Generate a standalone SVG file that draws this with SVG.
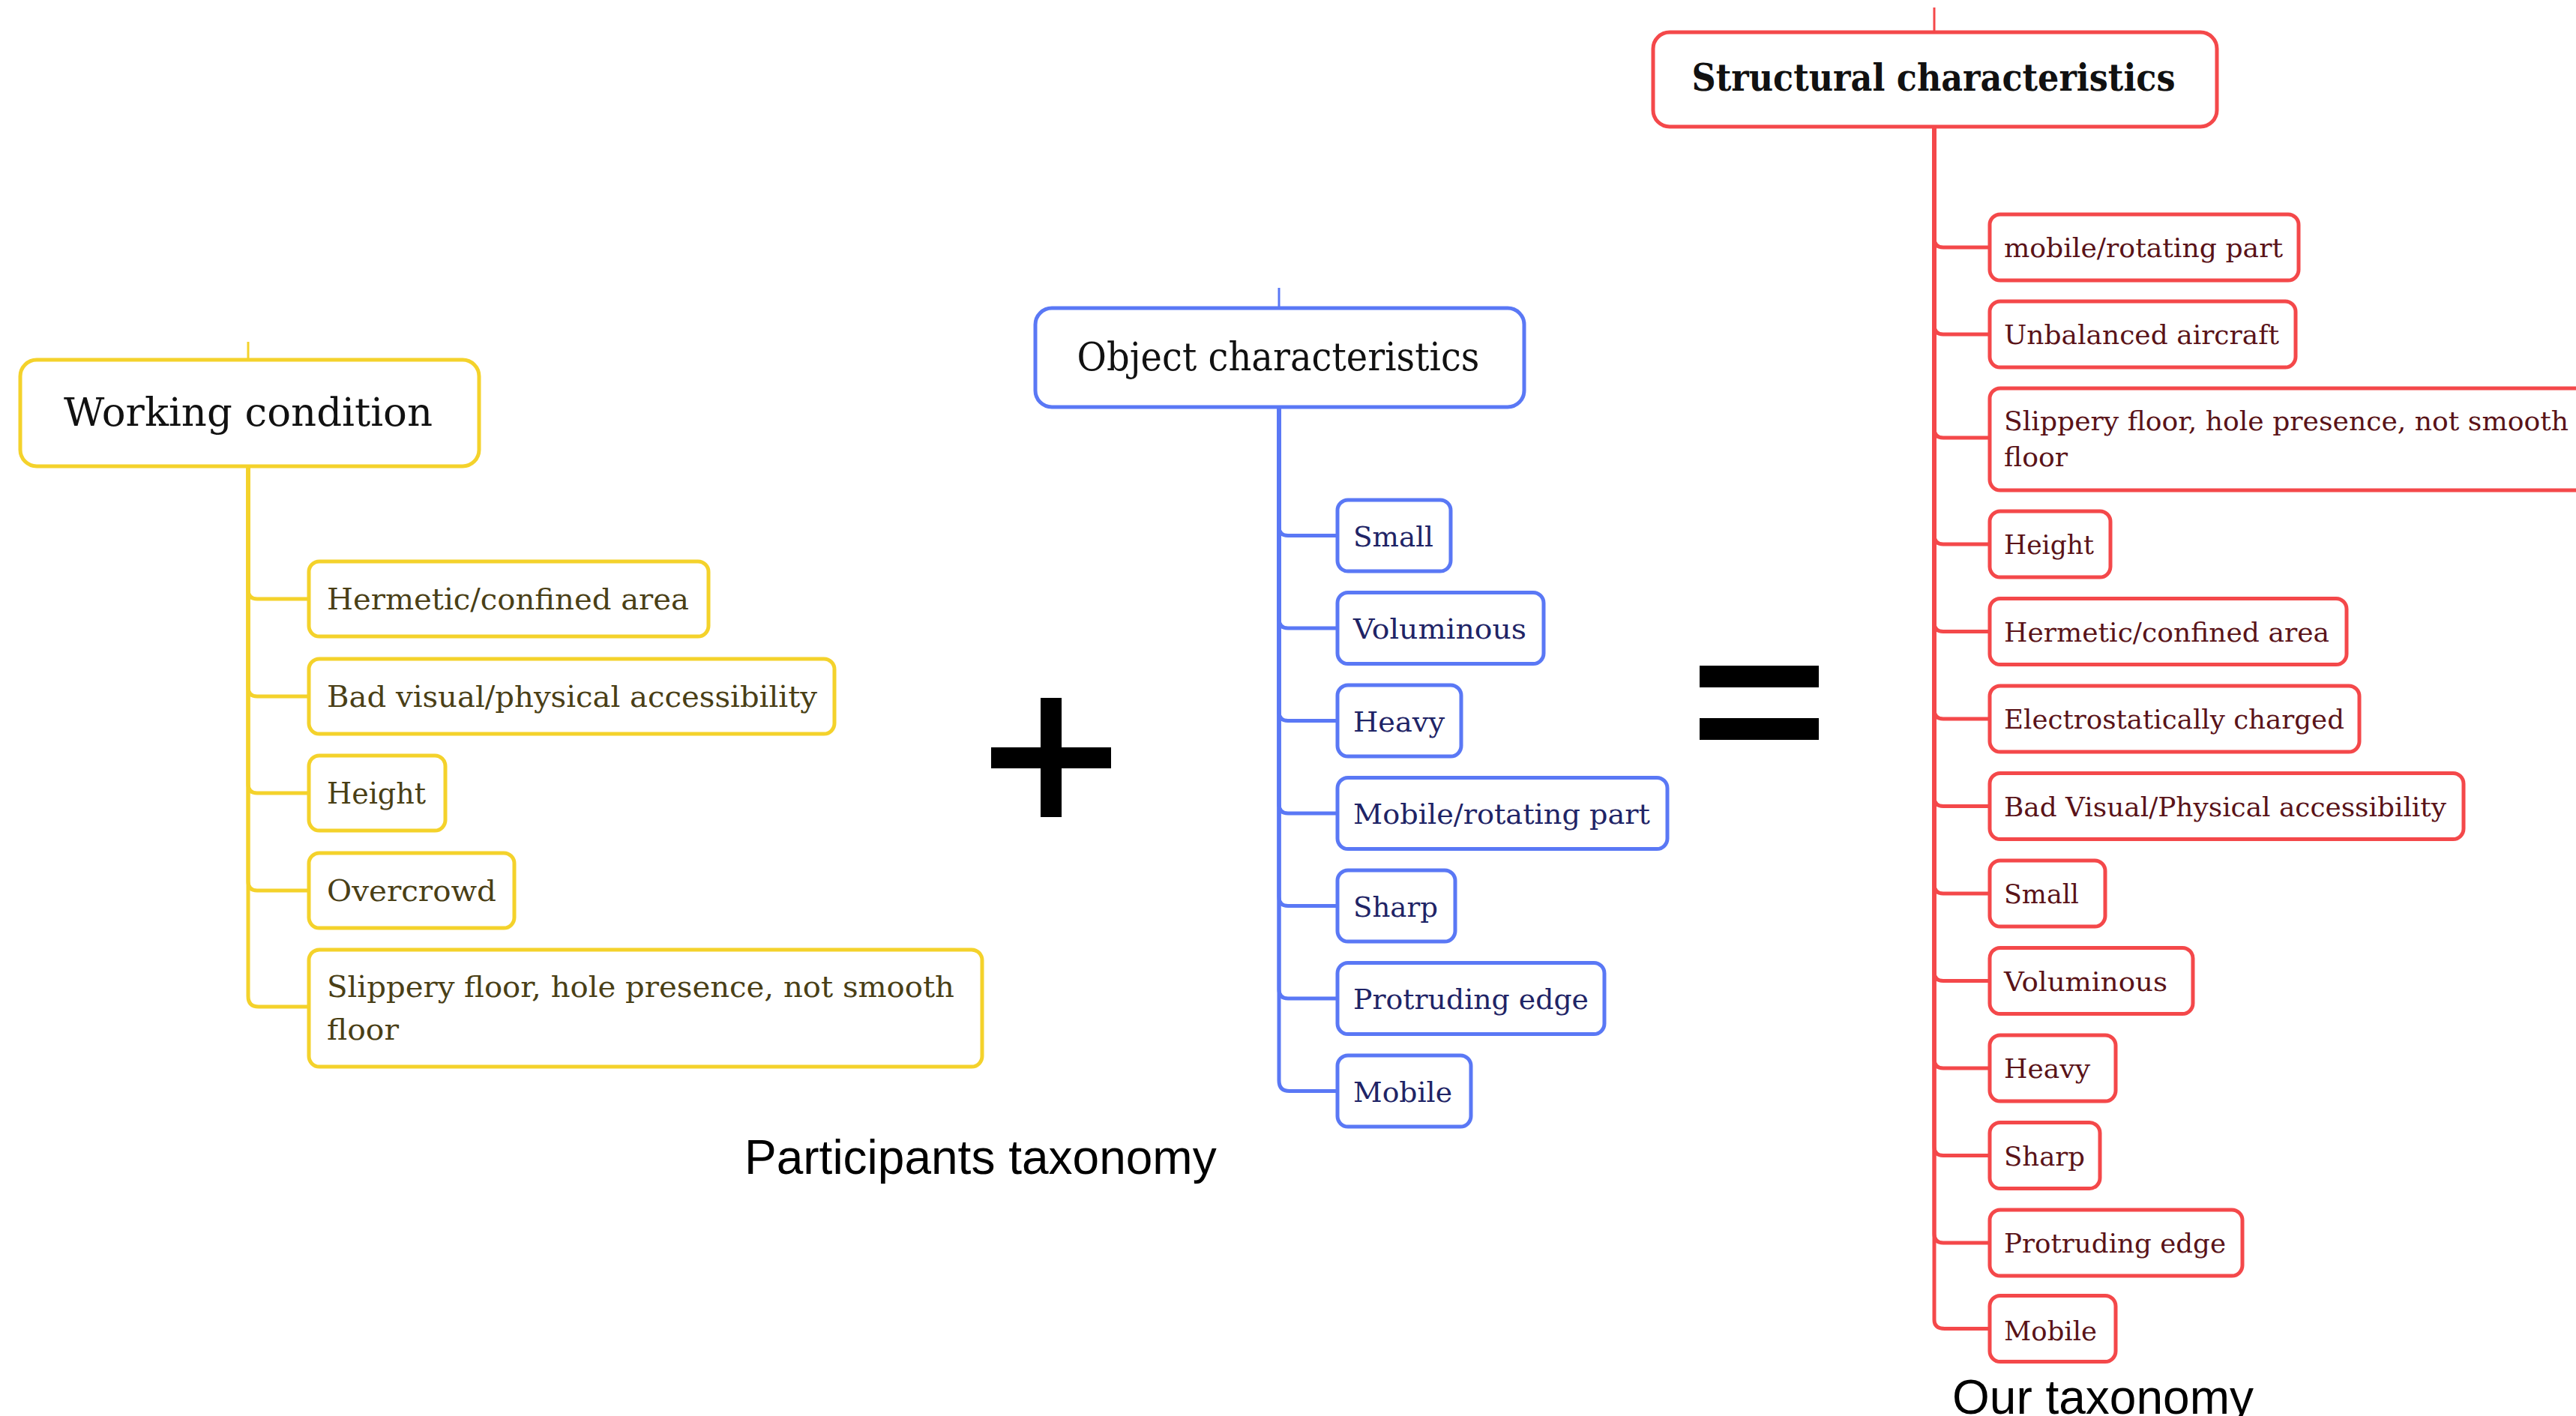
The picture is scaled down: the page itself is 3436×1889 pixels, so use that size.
<svg xmlns="http://www.w3.org/2000/svg" width="3436" height="1889" viewBox="0 0 3436 1889">
<style>
.bg{fill:#ffffff}
.y{fill:#ffffff;stroke:#F4D22B;stroke-width:5}
.b{fill:#ffffff;stroke:#5A78F5;stroke-width:5}
.r{fill:#ffffff;stroke:#F4484A;stroke-width:5}
.cy{fill:none;stroke:#F4D22B;stroke-width:5}
.cb{fill:none;stroke:#5A78F5;stroke-width:5}
.cr{fill:none;stroke:#F4484A;stroke-width:5}
.sy{stroke:#F4D22B;stroke-width:3}
.sb{stroke:#5A78F5;stroke-width:3}
.sr{stroke:#F4484A;stroke-width:3}
.t{font-family:"DejaVu Serif","Liberation Serif",serif}
.root{font-size:53px;fill:#111111}
.rootb{font-size:50px;font-weight:bold;fill:#111111}
.ty{font-size:40px;fill:#4a3f16}
.tb{font-size:38px;fill:#1f2466}
.tr{font-size:36px;fill:#5a1318}
.cap{font-family:"Liberation Sans",Arial,sans-serif;font-size:64px;fill:#000000}
</style>
<rect class="bg" x="0" y="0" width="3436" height="1889"/>

<g id="connectors">
  <line class="sy" x1="331" y1="456" x2="331" y2="480"/>
  <line class="sb" x1="1706" y1="384" x2="1706" y2="411"/>
  <line class="sr" x1="2580" y1="10" x2="2580" y2="43"/>
  <path class="cy" d="M331,622 V787 Q331,799 343,799 H412"/>
  <path class="cy" d="M331,622 V917 Q331,929 343,929 H412"/>
  <path class="cy" d="M331,622 V1046 Q331,1058 343,1058 H412"/>
  <path class="cy" d="M331,622 V1176 Q331,1188 343,1188 H412"/>
  <path class="cy" d="M331,622 V1329 Q331,1343 345,1343 H412"/>

  <path class="cb" d="M1706,543 V702.5 Q1706,714.5 1718,714.5 H1784"/>
  <path class="cb" d="M1706,543 V826 Q1706,838 1718,838 H1784"/>
  <path class="cb" d="M1706,543 V949.5 Q1706,961.5 1718,961.5 H1784"/>
  <path class="cb" d="M1706,543 V1073 Q1706,1085 1718,1085 H1784"/>
  <path class="cb" d="M1706,543 V1196.5 Q1706,1208.5 1718,1208.5 H1784"/>
  <path class="cb" d="M1706,543 V1320 Q1706,1332 1718,1332 H1784"/>
  <path class="cb" d="M1706,543 V1441.5 Q1706,1455.5 1720,1455.5 H1784"/>

  <path class="cr" d="M2580,169 V318 Q2580,330 2592,330 H2654"/>
  <path class="cr" d="M2580,169 V434 Q2580,446 2592,446 H2654"/>
  <path class="cr" d="M2580,169 V572 Q2580,584 2592,584 H2654"/>
  <path class="cr" d="M2580,169 V714 Q2580,726 2592,726 H2654"/>
  <path class="cr" d="M2580,169 V830.5 Q2580,842.5 2592,842.5 H2654"/>
  <path class="cr" d="M2580,169 V947 Q2580,959 2592,959 H2654"/>
  <path class="cr" d="M2580,169 V1063.5 Q2580,1075.5 2592,1075.5 H2654"/>
  <path class="cr" d="M2580,169 V1180 Q2580,1192 2592,1192 H2654"/>
  <path class="cr" d="M2580,169 V1296.5 Q2580,1308.5 2592,1308.5 H2654"/>
  <path class="cr" d="M2580,169 V1413 Q2580,1425 2592,1425 H2654"/>
  <path class="cr" d="M2580,169 V1529.5 Q2580,1541.5 2592,1541.5 H2654"/>
  <path class="cr" d="M2580,169 V1646 Q2580,1658 2592,1658 H2654"/>
  <path class="cr" d="M2580,169 V1760.5 Q2580,1772.5 2594,1772.5 H2654"/>
</g>

<!-- Working condition -->
<g id="working-condition">
  <rect class="y" x="27" y="480" width="612" height="142" rx="22"/>
  <text class="t root" x="331" y="568" text-anchor="middle" textLength="492" lengthAdjust="spacingAndGlyphs">Working condition</text>
</g>
<g id="wc-hermetic">
  <rect class="y" x="412" y="749" width="533" height="100" rx="14"/>
  <text class="t ty" x="436" y="813" textLength="483" lengthAdjust="spacingAndGlyphs">Hermetic/confined area</text>
</g>
<g id="wc-bad-visual">
  <rect class="y" x="412" y="879" width="701" height="100" rx="14"/>
  <text class="t ty" x="436" y="943" textLength="654" lengthAdjust="spacingAndGlyphs">Bad visual/physical accessibility</text>
</g>
<g id="wc-height">
  <rect class="y" x="412" y="1008" width="182" height="100" rx="14"/>
  <text class="t ty" x="436" y="1072" textLength="132" lengthAdjust="spacingAndGlyphs">Height</text>
</g>
<g id="wc-overcrowd">
  <rect class="y" x="412" y="1138" width="274" height="100" rx="14"/>
  <text class="t ty" x="436" y="1202" textLength="226" lengthAdjust="spacingAndGlyphs">Overcrowd</text>
</g>
<g id="wc-slippery">
  <rect class="y" x="412" y="1267" width="898" height="156" rx="14"/>
  <text class="t ty" x="436" y="1330" textLength="837" lengthAdjust="spacingAndGlyphs">Slippery floor, hole presence, not smooth</text>
  <text class="t ty" x="436" y="1387" textLength="96" lengthAdjust="spacingAndGlyphs">floor</text>
</g>

<!-- Plus -->
<g id="plus">
  <rect x="1388" y="931" width="28" height="159" fill="#000000"/>
  <rect x="1322" y="997" width="160" height="28" fill="#000000"/>
</g>

<!-- Object characteristics -->
<g id="object-characteristics">
  <rect class="b" x="1381" y="411" width="652" height="132" rx="22"/>
  <text class="t root" x="1705" y="494" text-anchor="middle" textLength="537" lengthAdjust="spacingAndGlyphs">Object characteristics</text>
</g>
<g id="oc-small">
  <rect class="b" x="1784" y="667" width="151" height="95" rx="14"/>
  <text class="t tb" x="1805" y="728.5" textLength="107" lengthAdjust="spacingAndGlyphs">Small</text>
</g>
<g id="oc-voluminous">
  <rect class="b" x="1784" y="790.5" width="275" height="95" rx="14"/>
  <text class="t tb" x="1805" y="852" textLength="231" lengthAdjust="spacingAndGlyphs">Voluminous</text>
</g>
<g id="oc-heavy">
  <rect class="b" x="1784" y="914" width="165" height="95" rx="14"/>
  <text class="t tb" x="1805" y="975.5" textLength="122" lengthAdjust="spacingAndGlyphs">Heavy</text>
</g>
<g id="oc-mobile-rotating">
  <rect class="b" x="1784" y="1037.5" width="440" height="95" rx="14"/>
  <text class="t tb" x="1805" y="1099" textLength="396" lengthAdjust="spacingAndGlyphs">Mobile/rotating part</text>
</g>
<g id="oc-sharp">
  <rect class="b" x="1784" y="1161" width="157" height="95" rx="14"/>
  <text class="t tb" x="1805" y="1222.5" textLength="113" lengthAdjust="spacingAndGlyphs">Sharp</text>
</g>
<g id="oc-protruding">
  <rect class="b" x="1784" y="1284.5" width="356" height="95" rx="14"/>
  <text class="t tb" x="1805" y="1346" textLength="314" lengthAdjust="spacingAndGlyphs">Protruding edge</text>
</g>
<g id="oc-mobile">
  <rect class="b" x="1784" y="1408" width="178" height="95" rx="14"/>
  <text class="t tb" x="1805" y="1469.5" textLength="132" lengthAdjust="spacingAndGlyphs">Mobile</text>
</g>

<g id="participants-label">
  <text class="cap" x="993" y="1566">Participants taxonomy</text>
</g>

<!-- Equals -->
<g id="equals">
  <rect x="2267" y="888" width="159" height="29" fill="#000000"/>
  <rect x="2267" y="958" width="159" height="29" fill="#000000"/>
</g>

<!-- Structural characteristics -->
<g id="structural-characteristics">
  <rect class="r" x="2205" y="43" width="752" height="126" rx="22"/>
  <text class="t rootb" x="2579" y="121" text-anchor="middle" textLength="645" lengthAdjust="spacingAndGlyphs">Structural characteristics</text>
</g>
<g id="sc-mobile-rotating">
  <rect class="r" x="2654" y="286" width="412" height="88" rx="14"/>
  <text class="t tr" x="2673" y="343" textLength="372" lengthAdjust="spacingAndGlyphs">mobile/rotating part</text>
</g>
<g id="sc-unbalanced">
  <rect class="r" x="2654" y="402" width="408" height="88" rx="14"/>
  <text class="t tr" x="2673" y="459" textLength="367" lengthAdjust="spacingAndGlyphs">Unbalanced aircraft</text>
</g>
<g id="sc-slippery">
  <rect class="r" x="2654" y="518" width="820" height="136" rx="14"/>
  <text class="t tr" x="2673" y="574" textLength="753" lengthAdjust="spacingAndGlyphs">Slippery floor, hole presence, not smooth</text>
  <text class="t tr" x="2673" y="622" textLength="85" lengthAdjust="spacingAndGlyphs">floor</text>
</g>
<g id="sc-height">
  <rect class="r" x="2654" y="682" width="161" height="88" rx="14"/>
  <text class="t tr" x="2673" y="739" textLength="120" lengthAdjust="spacingAndGlyphs">Height</text>
</g>
<g id="sc-hermetic">
  <rect class="r" x="2654" y="798.5" width="476" height="88" rx="14"/>
  <text class="t tr" x="2673" y="855.5" textLength="434" lengthAdjust="spacingAndGlyphs">Hermetic/confined area</text>
</g>
<g id="sc-electrostatic">
  <rect class="r" x="2654" y="915" width="493" height="88" rx="14"/>
  <text class="t tr" x="2673" y="972" textLength="454" lengthAdjust="spacingAndGlyphs">Electrostatically charged</text>
</g>
<g id="sc-bad-visual">
  <rect class="r" x="2654" y="1031.5" width="632" height="88" rx="14"/>
  <text class="t tr" x="2673" y="1088.5" textLength="590" lengthAdjust="spacingAndGlyphs">Bad Visual/Physical accessibility</text>
</g>
<g id="sc-small">
  <rect class="r" x="2654" y="1148" width="154" height="88" rx="14"/>
  <text class="t tr" x="2673" y="1205" textLength="100" lengthAdjust="spacingAndGlyphs">Small</text>
</g>
<g id="sc-voluminous">
  <rect class="r" x="2654" y="1264.5" width="271" height="88" rx="14"/>
  <text class="t tr" x="2673" y="1321.5" textLength="218" lengthAdjust="spacingAndGlyphs">Voluminous</text>
</g>
<g id="sc-heavy">
  <rect class="r" x="2654" y="1381" width="168" height="88" rx="14"/>
  <text class="t tr" x="2673" y="1438" textLength="115" lengthAdjust="spacingAndGlyphs">Heavy</text>
</g>
<g id="sc-sharp">
  <rect class="r" x="2654" y="1497.5" width="147" height="88" rx="14"/>
  <text class="t tr" x="2673" y="1554.5" textLength="108" lengthAdjust="spacingAndGlyphs">Sharp</text>
</g>
<g id="sc-protruding">
  <rect class="r" x="2654" y="1614" width="337" height="88" rx="14"/>
  <text class="t tr" x="2673" y="1671" textLength="296" lengthAdjust="spacingAndGlyphs">Protruding edge</text>
</g>
<g id="sc-mobile">
  <rect class="r" x="2654" y="1728.5" width="168" height="88" rx="14"/>
  <text class="t tr" x="2673" y="1787.5" textLength="124" lengthAdjust="spacingAndGlyphs">Mobile</text>
</g>

<g id="our-label">
  <text class="cap" x="2604" y="1886">Our taxonomy</text>
</g>
</svg>
